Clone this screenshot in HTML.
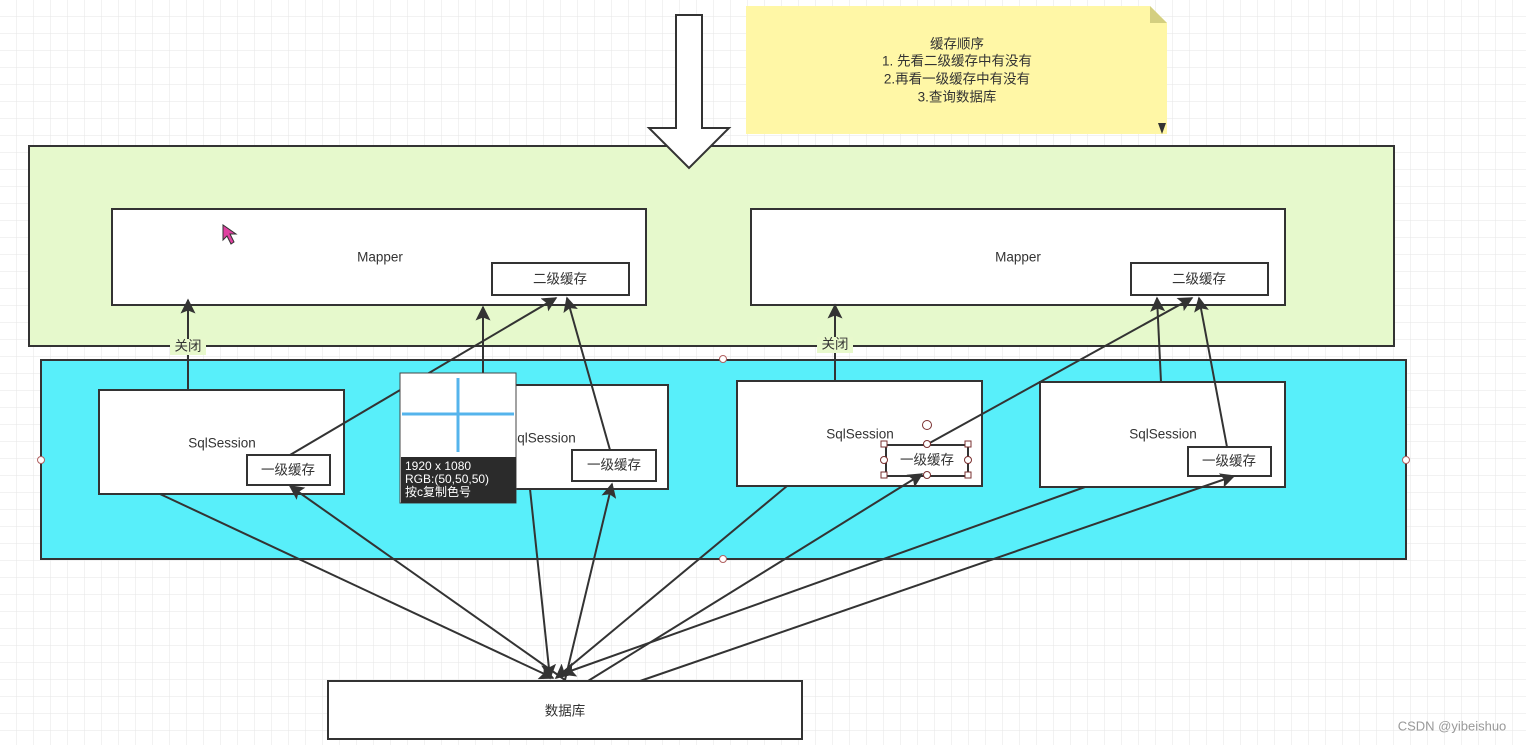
<!DOCTYPE html>
<html><head><meta charset="utf-8"><style>
html,body{margin:0;padding:0;width:1526px;height:745px;overflow:hidden;background:#fff}
text{font-family:"Liberation Sans","Noto Sans CJK SC",sans-serif;font-size:13.5px;fill:#333;text-anchor:middle;dominant-baseline:middle}
</style></head><body>
<svg width="1526" height="745" xmlns="http://www.w3.org/2000/svg">
<defs>
<pattern id="g" width="17" height="17" patternUnits="userSpaceOnUse"><path d="M17 0V17H0" fill="none" stroke="#e6e6e6" stroke-width="1"/></pattern>
<marker id="b" viewBox="0 0 10 10" refX="9" refY="5" markerWidth="15" markerHeight="15" markerUnits="userSpaceOnUse" orient="auto"><path d="M0 0L10 5L0 10L2 5z" fill="#333"/></marker>
</defs>
<rect width="1526" height="745" fill="url(#g)"/>
<!-- note -->
<path d="M746 6H1150L1167 23V134H746Z" fill="#fff7a6"/>
<path d="M1150 6L1167 23H1150Z" fill="#d4cf80"/>
<path d="M1158 123H1166L1162 134Z" fill="#333"/>
<text x="957" y="45">缓存顺序</text>
<text x="957" y="62">1. 先看二级缓存中有没有</text>
<text x="957" y="80">2.再看一级缓存中有没有</text>
<text x="957" y="98">3.查询数据库</text>
<!-- green -->
<rect x="29" y="146" width="1365" height="200" fill="#e6f9cc" stroke="#333" stroke-width="2"/>
<!-- big arrow -->
<path d="M676 15H702V128H729L689 168L649 128H676Z" fill="#fff" stroke="#333" stroke-width="2"/>
<rect x="112" y="209" width="534" height="96" fill="#fff" stroke="#333" stroke-width="2"/>
<text x="380" y="258">Mapper</text>
<rect x="492" y="263" width="137" height="32" fill="#fff" stroke="#333" stroke-width="2"/>
<text x="560" y="280">二级缓存</text>
<rect x="751" y="209" width="534" height="96" fill="#fff" stroke="#333" stroke-width="2"/>
<text x="1018" y="258">Mapper</text>
<rect x="1131" y="263" width="137" height="32" fill="#fff" stroke="#333" stroke-width="2"/>
<text x="1199" y="280">二级缓存</text>
<!-- cyan -->
<rect x="41" y="360" width="1365" height="199" fill="#58effa" stroke="#333" stroke-width="2"/>
<g fill="#fff" stroke="#b06060" stroke-width="1">
<circle cx="41" cy="460" r="3.5"/><circle cx="1406" cy="460" r="3.5"/><circle cx="723" cy="359" r="3.5"/><circle cx="723" cy="559" r="3.5"/></g>
<rect x="99" y="390" width="245" height="104" fill="#fff" stroke="#333" stroke-width="2"/>
<text x="222" y="444">SqlSession</text>
<rect x="247" y="455" width="83" height="30" fill="#fff" stroke="#333" stroke-width="2"/>
<text x="288" y="471">一级缓存</text>
<rect x="420" y="385" width="248" height="104" fill="#fff" stroke="#333" stroke-width="2"/>
<text x="542" y="439">SqlSession</text>
<rect x="572" y="450" width="84" height="31" fill="#fff" stroke="#333" stroke-width="2"/>
<text x="614" y="466">一级缓存</text>
<rect x="737" y="381" width="245" height="105" fill="#fff" stroke="#333" stroke-width="2"/>
<text x="860" y="435">SqlSession</text>
<rect x="886" y="445" width="82" height="31" fill="#fff" stroke="#333" stroke-width="2"/>
<text x="927" y="461">一级缓存</text>
<rect x="1040" y="382" width="245" height="105" fill="#fff" stroke="#333" stroke-width="2"/>
<text x="1163" y="435">SqlSession</text>
<rect x="1188" y="447" width="83" height="29" fill="#fff" stroke="#333" stroke-width="2"/>
<text x="1229" y="462">一级缓存</text>
<!-- connectors -->
<g stroke="#333" stroke-width="2" fill="none" marker-end="url(#b)">
<path d="M188 390V300"/>
<path d="M290 455L556 298"/>
<path d="M483 385V307"/>
<path d="M610 450L567 298"/>
<path d="M835 381V305"/>
<path d="M926 445L1192 298"/>
<path d="M1161 382L1157 298"/>
<path d="M1227 447L1199 298"/>
<path d="M160 494L553 678"/>
<path d="M565 680L290 486"/>
<path d="M530 489L550 678"/>
<path d="M565 680L612 484"/>
<path d="M787 486L556 678"/>
<path d="M588 681L922 474"/>
<path d="M1085 487L562 674"/>
<path d="M640 681L1234 476"/>
</g>
<rect x="170" y="339" width="36" height="16" fill="#e8f9cc"/>
<text x="188" y="347">关闭</text>
<rect x="817" y="337" width="36" height="16" fill="#e8f9cc"/>
<text x="835" y="345">关闭</text>
<g fill="#fff" stroke="#7a3030" stroke-width="1">
<rect x="881" y="441" width="6" height="6"/><rect x="965" y="441" width="6" height="6"/><rect x="881" y="472" width="6" height="6"/><rect x="965" y="472" width="6" height="6"/>
<circle cx="927" cy="444" r="3.5"/><circle cx="927" cy="475" r="3.5"/><circle cx="884" cy="460" r="3.5"/><circle cx="968" cy="460" r="3.5"/><circle cx="927" cy="425" r="4.5"/></g>
<!-- db -->
<rect x="328" y="681" width="474" height="58" fill="#fff" stroke="#333" stroke-width="2"/>
<text x="565" y="712">数据库</text>
<!-- tooltip -->
<rect x="400" y="373" width="116" height="130" fill="#fff" stroke="#444" stroke-width="1"/>
<rect x="401" y="457" width="115" height="46" fill="#2b2b2b"/>
<path d="M402 414H514M458 378V452" stroke="#55b4ec" stroke-width="3"/>
<text x="405" y="467" style="font-size:12px;fill:#fff;text-anchor:start">1920 x 1080</text>
<text x="405" y="480" style="font-size:12px;fill:#fff;text-anchor:start">RGB:(50,50,50)</text>
<text x="405" y="493" style="font-size:12px;fill:#fff;text-anchor:start">按c复制色号</text>
<path d="M223 225L223 240L227 236L231 244L234 242L230 234L236 234Z" fill="#e040a0" stroke="#333" stroke-width="1"/>
<text x="1452" y="727" style="font-size:13px;fill:#999">CSDN @yibeishuo</text>
</svg>
</body></html>
